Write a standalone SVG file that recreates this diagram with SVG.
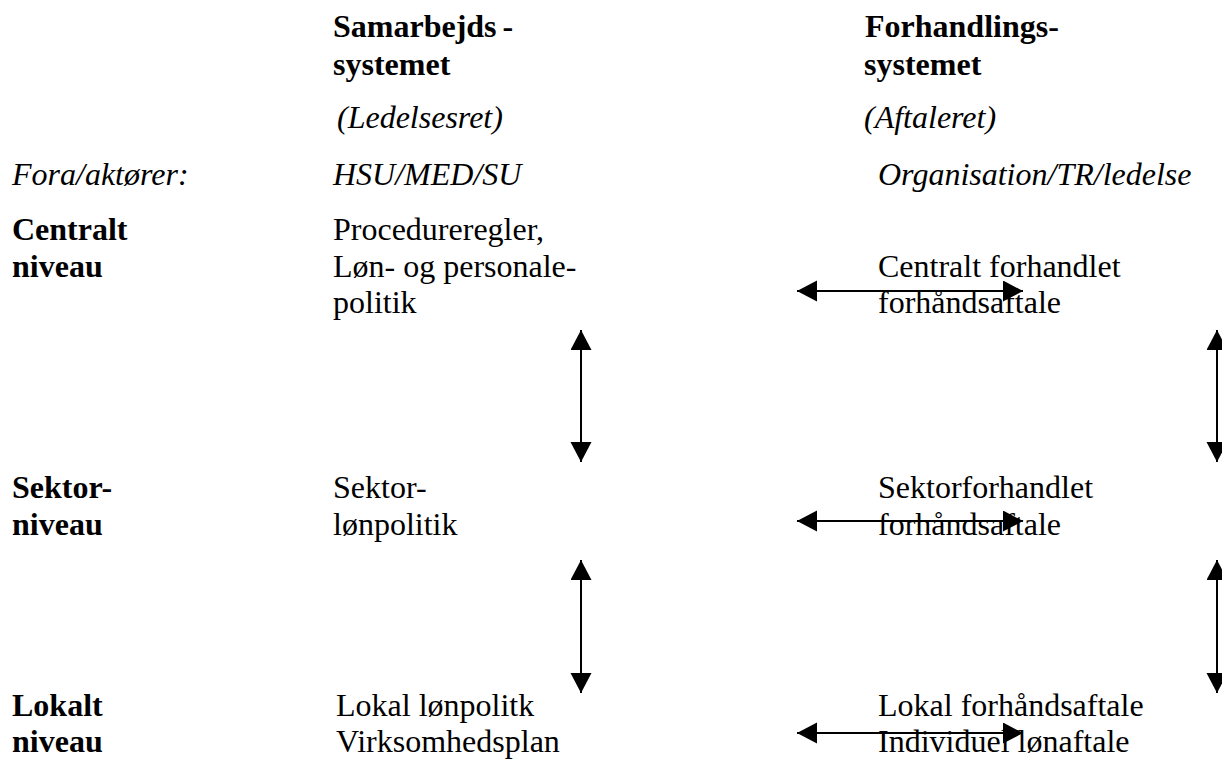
<svg xmlns="http://www.w3.org/2000/svg" width="1222" height="760" viewBox="0 0 1222 760">
<style>
text{font-family:"Liberation Serif","Times New Roman",serif;font-size:32px;fill:#000}
.b{font-weight:bold}
.i{font-style:italic}
.c line{stroke:#000;stroke-width:2}
</style>
<defs>
<marker id="ah" markerUnits="userSpaceOnUse" markerWidth="21" markerHeight="22" refX="20" refY="10.5" orient="auto-start-reverse" viewBox="0 0 21 22">
<path d="M0,0 L20,10.5 L0,21 Z" fill="#000"/>
</marker>
</defs>
<rect width="1222" height="760" fill="#fff"/>
<g id="head-samarbejd">
<text class="b" x="333" y="37">Samarbejds<tspan dx="6">-</tspan></text>
<text class="b" x="333" y="75">systemet</text>
<text class="i" x="337" y="128">(Ledelsesret)</text>
</g>
<g id="head-forhandling">
<text class="b" x="865" y="37">Forhandlings-</text>
<text class="b" x="864" y="75">systemet</text>
<text class="i" x="864" y="128">(Aftaleret)</text>
</g>
<g id="fora">
<text class="i" x="12" y="185">Fora/aktører:</text>
</g>
<g id="fora-samarbejd">
<text class="i" x="333" y="185">HSU/MED/SU</text>
</g>
<g id="fora-forhandling">
<text class="i" x="878" y="185">Organisation/TR/ledelse</text>
</g>
<g id="level-central">
<text class="b" x="12" y="240">Centralt</text>
<text class="b" x="12" y="277">niveau</text>
</g>
<g id="central-samarbejd">
<text x="333" y="240">Procedureregler,</text>
<text x="333" y="277">Løn- og personale-</text>
<text x="333" y="313">politik</text>
</g>
<g id="central-forhandling">
<text x="878" y="277">Centralt forhandlet</text>
<text x="878" y="313">forhåndsaftale</text>
</g>
<g id="level-sektor">
<text class="b" x="12" y="498">Sektor-</text>
<text class="b" x="12" y="535">niveau</text>
</g>
<g id="sektor-samarbejd">
<text x="333" y="498">Sektor-</text>
<text x="333" y="535">lønpolitik</text>
</g>
<g id="sektor-forhandling">
<text x="878" y="498">Sektorforhandlet</text>
<text x="878" y="535">forhåndsaftale</text>
</g>
<g id="level-lokal">
<text class="b" x="12" y="716">Lokalt</text>
<text class="b" x="12" y="752">niveau</text>
</g>
<g id="lokal-samarbejd">
<text x="336" y="716">Lokal lønpolitk</text>
<text x="336" y="752">Virksomhedsplan</text>
</g>
<g id="lokal-forhandling">
<text x="878" y="716">Lokal forhåndsaftale</text>
<text x="878" y="752">Individuel lønaftale</text>
</g>
<g id="connectors" class="c">
<line x1="797" y1="291" x2="1023" y2="291" marker-start="url(#ah)" marker-end="url(#ah)"/>
<line x1="797" y1="521" x2="1023" y2="521" marker-start="url(#ah)" marker-end="url(#ah)"/>
<line x1="797" y1="733" x2="1023" y2="733" marker-start="url(#ah)" marker-end="url(#ah)"/>
<line x1="581" y1="330" x2="581" y2="462" marker-start="url(#ah)" marker-end="url(#ah)"/>
<line x1="581" y1="560" x2="581" y2="693" marker-start="url(#ah)" marker-end="url(#ah)"/>
<line x1="1217" y1="330" x2="1217" y2="462" marker-start="url(#ah)" marker-end="url(#ah)"/>
<line x1="1217" y1="560" x2="1217" y2="693" marker-start="url(#ah)" marker-end="url(#ah)"/>
</g>
</svg>
